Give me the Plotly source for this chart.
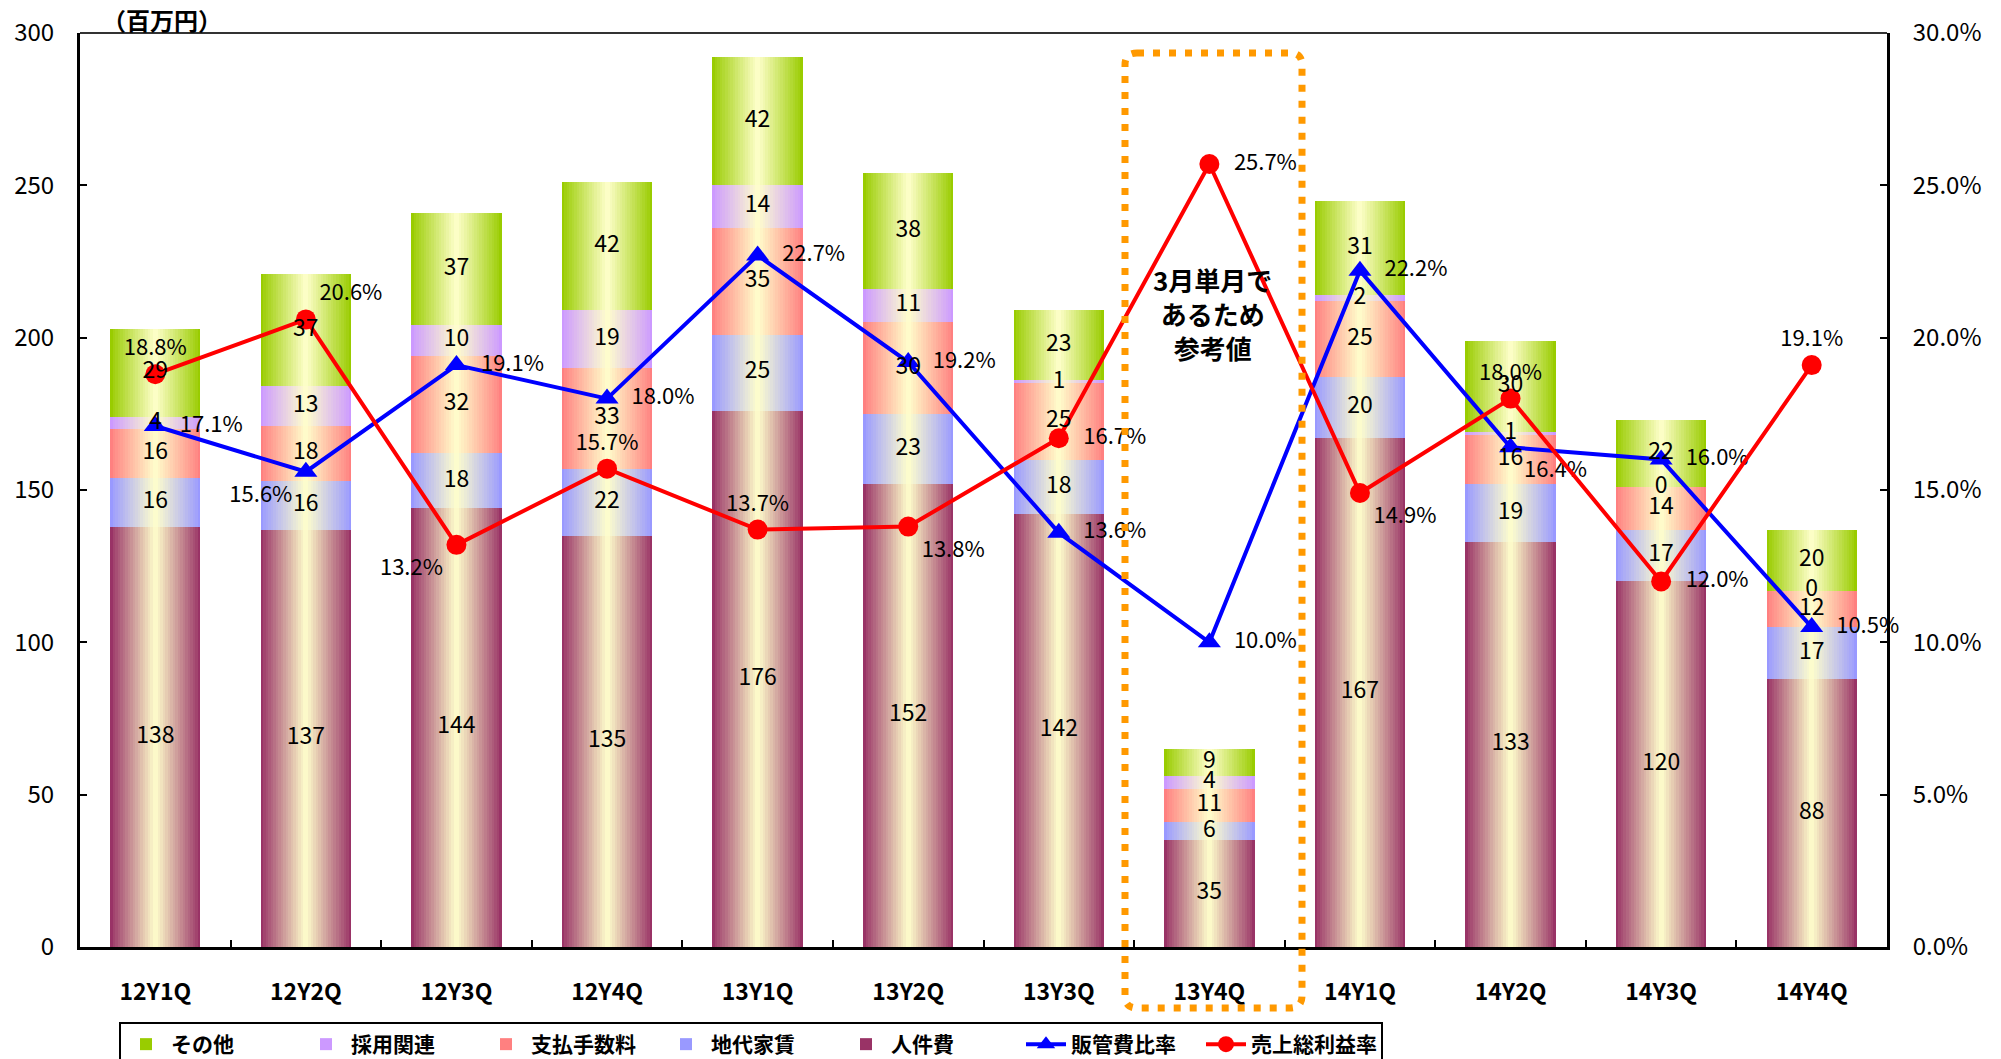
import plotly.graph_objects as go

categories = ["12Y1Q", "12Y2Q", "12Y3Q", "12Y4Q", "13Y1Q", "13Y2Q",
              "13Y3Q", "13Y4Q", "14Y1Q", "14Y2Q", "14Y3Q", "14Y4Q"]

jinkenhi = [138, 137, 144, 135, 176, 152, 142, 35, 167, 133, 120, 88]   # 人件費
chidai = [16, 16, 18, 22, 25, 23, 18, 6, 20, 19, 17, 17]                # 地代家賃
shiharai = [16, 18, 32, 33, 35, 30, 25, 11, 25, 16, 14, 12]             # 支払手数料
saiyo = [4, 13, 10, 19, 14, 11, 1, 4, 2, 1, 0, 0]                       # 採用関連
sonota = [29, 37, 37, 42, 42, 38, 23, 9, 31, 30, 22, 20]                # その他

hankanhi_ratio = [17.1, 15.6, 19.1, 18.0, 22.7, 19.2, 13.6, 10.0, 22.2, 16.4, 16.0, 10.5]  # 販管費比率
gross_margin = [18.8, 20.6, 13.2, 15.7, 13.7, 13.8, 16.7, 25.7, 14.9, 18.0, 12.0, 19.1]    # 売上総利益率

left_ticks = [0, 50, 100, 150, 200, 250, 300]
right_ticks = [0, 5, 10, 15, 20, 25, 30]
right_tick_text = ["0.0%", "5.0%", "10.0%", "15.0%", "20.0%", "25.0%", "30.0%"]

FONT = "Noto Sans CJK JP"
CENTER = "#FFFFCC"

series = [
    ("人件費", jinkenhi, "#993366", 5),
    ("地代家賃", chidai, "#9999FF", 4),
    ("支払手数料", shiharai, "#FF8080", 3),
    ("採用関連", saiyo, "#CC99FF", 2),
    ("その他", sonota, "#99CC00", 1),
]


def hex2rgb(h):
    h = h.lstrip("#")
    return tuple(int(h[i:i + 2], 16) for i in (0, 2, 4))


def lerp(c1, c2, t):
    a, b = hex2rgb(c1), hex2rgb(c2)
    return "rgb(%d,%d,%d)" % tuple(round(a[i] + (b[i] - a[i]) * t) for i in range(3))


fig = go.Figure()

N = 18
BAR_W = 0.6
base = [0] * len(categories)
label_x, label_y, label_t = [], [], []
for name, vals, col, rank in series:
    for k in range(N):
        frac = 1 - k / N
        t = (k + 0.5) / N if k > 0 else 0.0
        fig.add_trace(go.Bar(
            x=categories, y=vals, base=base,
            width=BAR_W * frac,
            marker=dict(color=lerp(col, CENTER, t), line=dict(width=0)),
            name=name, legendgroup=name, showlegend=(k == 0), legendrank=rank,
            hoverinfo="skip" if k > 0 else None,
            yaxis="y",
        ))
    for i, v in enumerate(vals):
        label_x.append(categories[i])
        label_y.append(base[i] + v / 2)
        label_t.append(str(v))
    base = [b + v for b, v in zip(base, vals)]

blue_pos = ["middle right", "bottom left", "middle right", "middle right", "middle right", "middle right",
            "middle right", "middle right", "middle right", "bottom right", "middle right", "middle right"]
red_pos = ["top center", "top right", "bottom left", "top center", "top center", "bottom right",
           "middle right", "middle right", "bottom right", "top center", "middle right", "top center"]


def pct_text(vals, pos):
    out = []
    for v, p in zip(vals, pos):
        s = "%.1f%%" % v
        if p == "middle right":
            s = "\u2002" + s
        out.append(s)
    return out


fig.add_trace(go.Scatter(
    x=categories, y=hankanhi_ratio, yaxis="y2", name="販管費比率", legendrank=6,
    mode="lines+markers+text",
    line=dict(color="#0000FF", width=4),
    marker=dict(symbol="triangle-up", size=20, color="#0000FF"),
    text=pct_text(hankanhi_ratio, blue_pos), textposition=blue_pos,
    textfont=dict(family=FONT, size=22, color="black"),
    cliponaxis=False,
))
fig.add_trace(go.Scatter(
    x=categories, y=gross_margin, yaxis="y2", name="売上総利益率", legendrank=7,
    mode="lines+markers+text",
    line=dict(color="#FF0000", width=4),
    marker=dict(symbol="circle", size=20, color="#FF0000"),
    text=pct_text(gross_margin, red_pos), textposition=red_pos,
    textfont=dict(family=FONT, size=22, color="black"),
    cliponaxis=False,
))

fig.add_trace(go.Scatter(
    x=label_x, y=label_y, yaxis="y3", mode="text", text=label_t,
    textfont=dict(family=FONT, size=23, color="black"),
    showlegend=False, hoverinfo="skip", cliponaxis=False,
))

# plot area in pixels
L, R, T, B = 80, 114, 33, 112
W, H = 2001, 1059
pw, ph = W - L - R, H - T - B


def px2paper(x, y):
    return (x - L) / pw, (H - B - y) / ph


x0, y0 = px2paper(1125, 53)
x1, y1 = px2paper(1302, 1008)
rx, ry = 12 / pw, 12 / ph
path = (f"M{x0 + rx},{y0} L{x1 - rx},{y0} Q{x1},{y0} {x1},{y0 - ry} "
        f"L{x1},{y1 + ry} Q{x1},{y1} {x1 - rx},{y1} L{x0 + rx},{y1} "
        f"Q{x0},{y1} {x0},{y1 + ry} L{x0},{y0 - ry} Q{x0},{y0} {x0 + rx},{y0} Z")

ax_common = dict(showgrid=False, zeroline=False, showline=True, linecolor="black", linewidth=3,
                 ticks="inside", ticklen=7, tickwidth=2, tickcolor="black")

fig.update_layout(
    width=W, height=H,
    margin=dict(l=L, r=R, t=T, b=B, autoexpand=False),
    paper_bgcolor="white", plot_bgcolor="white",
    barmode="overlay", bargap=0,
    font=dict(family=FONT, color="black"),
    xaxis=dict(type="category", range=[-0.5, 11.5], tickson="boundaries",
               tickfont=dict(family=FONT, size=23, weight="bold"), ticklabelstandoff=22,
               **ax_common),
    yaxis=dict(range=[0, 300], tickvals=left_ticks, tickfont=dict(family=FONT, size=24),
               ticklabelstandoff=18, **ax_common),
    yaxis2=dict(range=[0, 30], tickvals=right_ticks, ticktext=right_tick_text,
                overlaying="y", side="right", tickfont=dict(family=FONT, size=24),
                ticklabelstandoff=18, **ax_common),
    yaxis3=dict(range=[0, 300], overlaying="y", visible=False),
    legend=dict(orientation="h", x=(119 - L) / pw, y=(H - B - 1022) / ph,
                xanchor="left", yanchor="top",
                bordercolor="black", borderwidth=2,
                font=dict(family=FONT, size=21, weight="bold"),
                entrywidth=125, traceorder="normal", itemwidth=40),
    shapes=[
        dict(type="line", xref="paper", yref="paper", x0=0, x1=1, y0=1, y1=1,
             line=dict(color="#333333", width=2)),
        dict(type="path", xref="paper", yref="paper", path=path, layer="above",
             line=dict(color="#FF9900", width=7, dash="7px,9px")),
    ],
    annotations=[
        dict(text="（百万円）", xref="paper", yref="paper", x=(162 - L) / pw, y=(H - B - 20) / ph,
             xanchor="center", yanchor="middle",
             showarrow=False, font=dict(family=FONT, size=24, weight="bold")),
        dict(text="3月単月で<br>あるため<br>参考値", xref="paper", yref="paper",
             x=(1212 - L) / pw, y=(H - B - 313) / ph, xanchor="center", yanchor="middle",
             showarrow=False, font=dict(family=FONT, size=26, weight="bold"), align="center"),
    ],
)

fig.write_html("out.html")
